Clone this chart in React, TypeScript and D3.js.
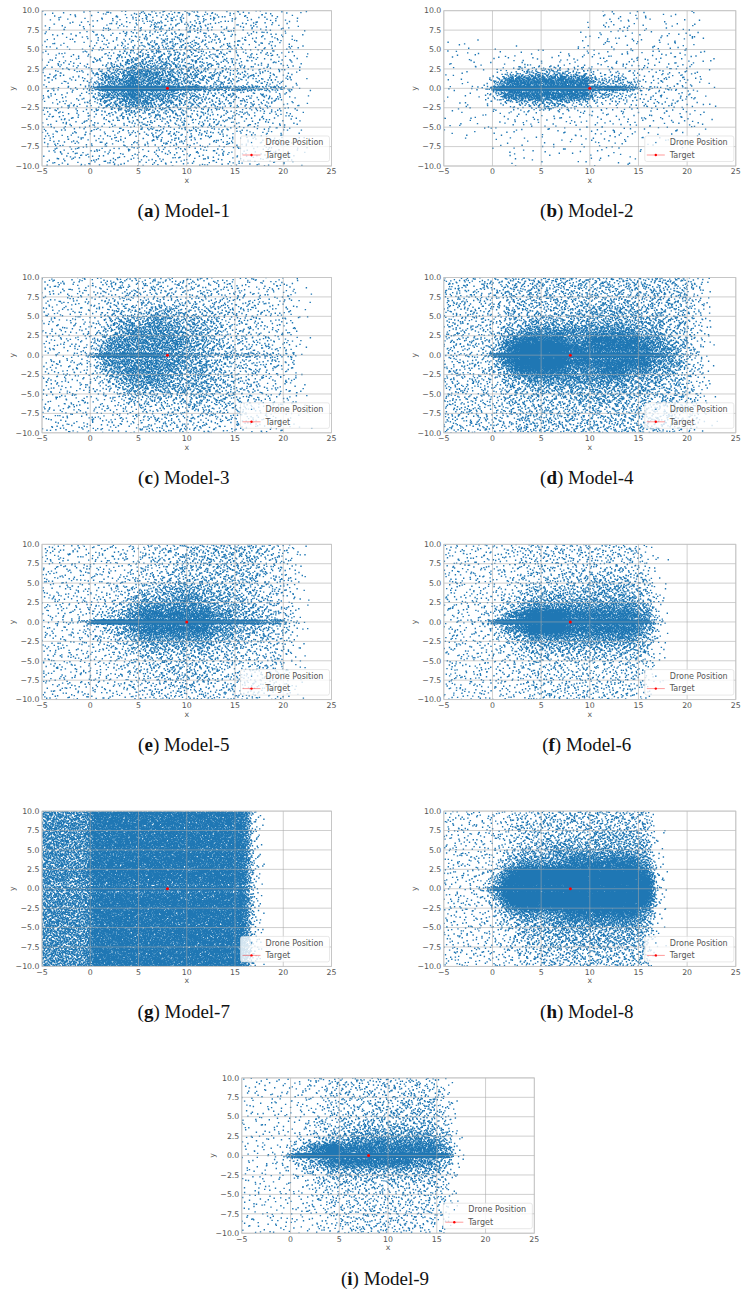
import { useMemo } from 'react';
import * as d3 from 'd3';

// axis ticks shared by all nine panels
const X_TICKS = [-5, 0, 5, 10, 15, 20, 25];
const Y_TICKS = [10, 7.5, 5, 2.5, 0, -2.5, -5, -7.5, -10];

// density cells: columns are 1.25 wide from x=-5 to 25,
// rows run top to bottom, the middle row is the thin band along y=0
const X_EDGES = d3.range(0, 25).map((i) => -5 + i * 1.25);
const Y_EDGES = [10, 8.75, 7.5, 6.25, 5, 3.75, 2.5, 1.25, 0.3, -0.3, -1.25, -2.5, -3.75, -5, -6.25, -7.5, -8.75, -10];
const BAND_ROW = 8;

// points per square pixel for each density digit
const LEVEL_DENSITY = [0, 0.015, 0.035, 0.06, 0.1, 0.17, 0.3, 0.55, 1.1, 2.4];

const MODEL_1 = [
  '2222 2333 4444 4433 3332 2100',
  '2222 2333 4444 4433 3332 2100',
  '2222 3333 4444 4433 3333 2100',
  '2222 3334 4555 5444 3333 2100',
  '3222 3345 5555 5444 3333 3100',
  '3333 3456 6665 5544 4333 3100',
  '3333 4667 7766 6554 4443 3100',
  '3333 5778 7776 6555 4444 3100',
  '3333 7999 9998 8777 7766 4200',
  '3333 5778 7776 6555 4444 3100',
  '3333 4667 7665 5544 4443 3100',
  '3333 3455 5555 4444 4433 3100',
  '3333 3344 4444 4444 3333 2100',
  '3333 3333 4444 4443 3333 2100',
  '3333 3333 3444 3333 3333 2100',
  '2333 3333 3333 3333 3333 2100',
  '2333 3333 3333 3333 3332 2100',
];

const MODEL_2 = [
  '0000 0000 0000 1222 1111 1000',
  '0000 0000 0000 1222 1111 2000',
  '0000 0000 0001 1222 1112 2000',
  '1110 0000 0001 2222 1222 2000',
  '1111 1121 1122 2222 2222 2100',
  '1111 1222 1222 2223 2222 2100',
  '1111 2456 6655 3333 3333 2100',
  '1112 6888 8888 6665 3333 3100',
  '2224 8999 9999 8887 4443 3100',
  '1112 6888 8888 6654 3333 3100',
  '1111 2456 6654 3333 3333 2100',
  '1111 1222 2222 2222 2222 2100',
  '1111 1222 2222 2222 2222 2100',
  '1111 1111 1112 2222 1111 1100',
  '0000 1111 1112 2221 1111 1000',
  '0000 1111 1111 1111 1000 0000',
  '0000 0111 0001 1111 0000 0000',
];

const MODEL_3 = [
  '3333 3444 4444 4433 3333 2100',
  '3333 3444 4444 4444 3333 3100',
  '3333 3444 4444 4444 4333 3100',
  '3333 3455 5665 5554 4433 3100',
  '3333 3566 6766 6554 4433 3100',
  '3333 4567 7776 6654 4433 3100',
  '3333 4677 7777 6654 4443 3100',
  '3333 5777 7777 6655 4444 3100',
  '3334 7888 8877 7666 6655 4200',
  '3333 5777 7777 6655 4444 3100',
  '3333 4677 7776 6654 4443 3100',
  '3333 3567 7766 6655 4433 3100',
  '3333 3456 6666 6655 4433 3100',
  '3333 3345 5555 5555 4433 3100',
  '3333 3334 4444 5544 4433 2100',
  '2333 3333 4444 4444 4333 2100',
  '2333 3333 4444 4433 3332 1100',
];

const MODEL_4 = [
  '4444 4555 5555 5555 5555 4200',
  '4444 4555 5555 5555 5555 4200',
  '4444 4555 5555 5555 5555 4200',
  '4444 4555 5556 6666 5555 4200',
  '4444 4556 6666 6666 6655 4200',
  '4444 4667 7777 7777 6655 4200',
  '4444 5788 8877 8888 7765 4200',
  '4444 6899 9988 8888 8776 4200',
  '4445 8999 9999 9999 8876 4200',
  '4444 6899 9988 8888 8776 4200',
  '4444 5788 8877 7887 7665 4200',
  '4444 4667 7777 7776 6655 4200',
  '4444 4556 6666 6666 6555 4200',
  '4444 4555 5556 6665 5555 4200',
  '4444 4555 5555 5555 5555 4200',
  '4444 4455 5555 5555 5554 4200',
  '4444 4455 5555 5555 5544 3100',
];

const MODEL_5 = [
  '3333 3333 4444 5555 5544 3100',
  '3333 3333 4445 5555 5544 3100',
  '3333 3333 4445 5555 5544 3100',
  '3333 3334 4455 5555 5544 3100',
  '3333 3344 5566 6655 5544 3100',
  '3333 3345 6667 7666 5544 3100',
  '3333 4456 7777 7766 6554 3100',
  '3333 4567 8888 8877 6655 4100',
  '3345 8999 9999 9988 8877 5200',
  '3333 4567 8888 8877 6655 4100',
  '3333 4456 7777 7766 5554 3100',
  '3333 3445 6666 6655 5444 3100',
  '3333 3344 5555 5555 4444 3100',
  '3333 3344 4555 5544 4444 2100',
  '3333 3334 4455 5544 4444 2100',
  '3333 3334 4445 4444 4443 2100',
  '3333 3333 4444 4444 4433 2100',
];

const MODEL_6 = [
  '3333 3344 4444 4444 3000 0000',
  '3333 3344 4444 4444 3100 0000',
  '3333 3344 4444 4444 3100 0000',
  '3333 3344 4455 5555 4200 0000',
  '3333 3345 5555 6665 5200 0000',
  '3333 3456 6666 6666 5300 0000',
  '3333 4567 7777 7777 6300 0000',
  '3333 5789 9988 8888 7400 0000',
  '3345 8999 9999 9999 8500 0000',
  '3333 5789 9988 8888 7400 0000',
  '3333 4567 7777 7777 6300 0000',
  '3333 3456 6666 6666 5300 0000',
  '3333 3445 5555 5555 5200 0000',
  '3333 3344 4444 4444 4100 0000',
  '3333 3344 4444 4444 4100 0000',
  '3333 3334 4444 4444 3100 0000',
  '3333 3334 4444 4443 3000 0000',
];

const MODEL_7 = [
  '7777 8888 8888 8888 8400 0000',
  '7777 8888 8888 8888 8400 0000',
  '7777 8888 8888 8888 8400 0000',
  '7777 8888 8888 8888 8400 0000',
  '7777 8888 8888 8888 8400 0000',
  '7777 8888 8888 8888 8400 0000',
  '7777 8888 8888 8888 8400 0000',
  '7777 8888 8888 8888 8400 0000',
  '7777 8888 8888 8888 8400 0000',
  '7777 8888 8888 8888 8400 0000',
  '7777 8888 8888 8888 8400 0000',
  '7777 8888 8888 8888 8400 0000',
  '7777 8888 8888 8888 8400 0000',
  '7777 8888 8888 8888 8400 0000',
  '7777 8888 8888 8888 8400 0000',
  '7777 8888 8888 8888 8400 0000',
  '7777 8888 8888 8888 8400 0000',
];

const MODEL_8 = [
  '3333 3444 5555 5555 5000 0000',
  '3333 3455 5555 5555 5100 0000',
  '3333 3455 5555 6666 5100 0000',
  '3333 3455 6666 6666 6200 0000',
  '3333 4566 6777 7777 6200 0000',
  '3333 4677 7788 8888 7300 0000',
  '3333 5899 9999 9999 8300 0000',
  '3334 7999 9999 9999 9400 0000',
  '3335 8999 9999 9999 9400 0000',
  '3334 7999 9999 9999 9400 0000',
  '3333 5899 9999 9999 8300 0000',
  '3333 4677 7788 8888 7300 0000',
  '3333 4566 6777 7777 6200 0000',
  '3333 3456 6666 6666 6100 0000',
  '3333 3455 5666 6666 5100 0000',
  '3333 3445 5555 5555 5100 0000',
  '3333 3344 5555 5555 5000 0000',
];

const MODEL_9 = [
  '2222 2334 4444 4444 3000 0000',
  '2222 2334 4444 4444 3000 0000',
  '2222 2234 4444 4555 4100 0000',
  '2222 2334 4445 5555 4100 0000',
  '2222 2344 5555 5555 4100 0000',
  '2222 2345 5666 6666 5200 0000',
  '2222 3456 6777 7777 6200 0000',
  '2223 5789 8888 8888 7300 0000',
  '2224 8999 9999 9999 8400 0000',
  '2223 5678 8888 8877 6300 0000',
  '2222 3456 6666 6666 5200 0000',
  '2222 2345 5555 5555 4100 0000',
  '2222 2344 4444 4444 4100 0000',
  '2222 2334 4444 4444 4100 0000',
  '2222 2334 4444 4444 3100 0000',
  '2222 2233 4444 4444 3000 0000',
  '2222 2233 4444 4433 3000 0000',
];

const GRIDS = [MODEL_1, MODEL_2, MODEL_3, MODEL_4, MODEL_5, MODEL_6, MODEL_7, MODEL_8, MODEL_9];
const LETTERS = ['a', 'b', 'c', 'd', 'e', 'f', 'g', 'h', 'i'];
const MODEL_NAMES = ['Model-1', 'Model-2', 'Model-3', 'Model-4', 'Model-5', 'Model-6', 'Model-7', 'Model-8', 'Model-9'];
const TARGET_X = [8, 10, 8, 8, 10, 8, 8, 8, 8];
const TARGET_Y = [0, 0, 0, 0, 0, 0, 0, 0, 0];

const BLUE = '#1f77b4';
const FONT = 'DejaVu Sans, sans-serif';
const fmtY = d3.format('.1f');
const fmtX = d3.format('d');
const LEAP = 409;
const DOT = 1.4;

const X_CENTERS = X_EDGES.slice(0, -1).map((e, i) => (e + X_EDGES[i + 1]) / 2);
const Y_CENTERS = Y_EDGES.slice(0, -1).map((e, i) => (e + Y_EDGES[i + 1]) / 2);

// leaped Halton sequence: even spread inside a cell without a visible lattice
function halton(i: number, b: number) {
  let f = 1;
  let r = 0;
  while (i > 0) {
    f /= b;
    r += f * (i % b);
    i = Math.floor(i / b);
  }
  return r;
}

// place a value inside the tent that reaches from the previous to the next cell centre,
// so neighbouring cells blend instead of showing hard steps
function tent(u: number, centre: number, before: number, after: number) {
  const p = before / (before + after);
  if (u < p) return centre - before * (1 - Math.sqrt(u / p));
  return centre + after * (1 - Math.sqrt((u - p) / (1 - p)));
}

function reflect(v: number, lo: number, hi: number) {
  if (v < lo) return 2 * lo - v;
  if (v > hi) return 2 * hi - v;
  return v;
}

interface PanelProps {
  idx: number;
  left: number;
  top: number;
  width: number;
  height: number;
}

function Panel({ idx, left, top, width, height }: PanelProps) {
  const x = d3.scaleLinear().domain([-5, 25]).range([0, width]);
  const y = d3.scaleLinear().domain([-10, 10]).range([height, 0]);

  const dots = useMemo(() => {
    const parts: string[] = [];
    let k = 1 + idx * 7919;
    const nRows = Y_CENTERS.length;
    GRIDS[idx].forEach((row, r) => {
      const cells = row.replace(/ /g, '');
      const cy = Y_CENTERS[r];
      const h = Y_EDGES[r] - Y_EDGES[r + 1];
      const up = r > 0 ? Y_CENTERS[r - 1] - cy : h;
      const down = r < nRows - 1 ? cy - Y_CENTERS[r + 1] : h;
      for (let c = 0; c < cells.length; c++) {
        const lvl = +cells[c];
        if (!lvl) continue;
        const x0 = X_EDGES[c];
        const x1 = X_EDGES[c + 1];
        const w = x1 - x0;
        const area = Math.abs(x(x1) - x(x0)) * Math.abs(y(Y_EDGES[r + 1]) - y(Y_EDGES[r]));
        const n = Math.round(LEVEL_DENSITY[lvl] * area);
        for (let i = 0; i < n; i++, k++) {
          const u = halton(k * LEAP, 2);
          const v = halton(k * LEAP, 3);
          const xv = reflect(tent(u, X_CENTERS[c], w, w), -5, 25);
          const yv =
            r === BAND_ROW
              ? cy + (v * 2 - 1) * (h / 2)
              : reflect(tent(v, cy, down, up), -10, 10);
          const px = x(xv) - DOT / 2;
          const py = y(yv) - DOT / 2;
          parts.push(`M${px.toFixed(1)} ${py.toFixed(1)}h${DOT}v${DOT}h-${DOT}z`);
        }
      }
    });
    return parts.join('');
  }, [idx, width, height]);

  const clipId = `clip-${idx}`;

  return (
    <g transform={`translate(${left},${top})`}>
      <defs>
        <clipPath id={clipId}>
          <rect width={width} height={height} />
        </clipPath>
      </defs>
      <rect width={width} height={height} fill="white" />
      <path d={dots} fill={BLUE} clipPath={`url(#${clipId})`} />

      {/* grid sits over the points, as in the original */}
      <g stroke="#a8a8a8" strokeOpacity={0.7} strokeWidth={0.8}>
        {X_TICKS.map((t) => (
          <line key={`gx${t}`} x1={x(t)} x2={x(t)} y1={0} y2={height} />
        ))}
        {Y_TICKS.map((t) => (
          <line key={`gy${t}`} x1={0} x2={width} y1={y(t)} y2={y(t)} />
        ))}
      </g>
      <rect width={width} height={height} fill="none" stroke="#c4c4c4" strokeWidth={0.8} />

      <circle cx={x(TARGET_X[idx])} cy={y(TARGET_Y[idx])} r={1.5} fill="#ff0000" />

      <g fontFamily={FONT} fontSize={7.8} fill="#555">
        {Y_TICKS.map((t) => (
          <text key={`ty${t}`} x={-2.5} y={y(t)} dy="0.35em" textAnchor="end">
            {fmtY(t)}
          </text>
        ))}
        {X_TICKS.map((t) => (
          <text key={`tx${t}`} x={x(t)} y={height + 8.5} textAnchor="middle">
            {fmtX(t)}
          </text>
        ))}
        <text x={width / 2} y={height + 17} textAnchor="middle">x</text>
        <text transform={`translate(-30,${height / 2}) rotate(-90)`} textAnchor="middle" dy="0.35em">
          y
        </text>
      </g>

      <g transform={`translate(${width - 91},${height - 30})`} fontFamily={FONT} fontSize={8} fill="#555">
        <rect width={89} height={25.5} rx={2} fill="white" fillOpacity={0.8} stroke="#d8d8d8" strokeWidth={0.6} />
        <rect x={10.4} y={5.9} width={1.3} height={1.3} fill={BLUE} />
        <text x={25} y={6.5} dy="0.35em">Drone Position</text>
        <line x1={2} x2={20} y1={19} y2={19} stroke="#ff0000" strokeOpacity={0.5} strokeWidth={0.8} />
        <circle cx={11} cy={19} r={1.2} fill="#ff0000" />
        <text x={25} y={19} dy="0.35em">Target</text>
      </g>

      <text
        x={width / 2 - 3}
        y={height + 51.5}
        textAnchor="middle"
        fontFamily="Liberation Serif, serif"
        fontSize={19}
        fill="#111"
      >
        (<tspan fontWeight="bold">{LETTERS[idx]}</tspan>) {MODEL_NAMES[idx]}
      </text>
    </g>
  );
}

export default function App() {
  const rowStep = 266.8;
  const panels = GRIDS.map((_, i) => {
    const row = Math.floor(i / 2);
    const col = i % 2;
    const isLast = i === 8;
    const left = isLast ? 241.8 : col === 0 ? 42 : 443.8;
    const width = isLast ? 292.5 : col === 0 ? 289.5 : 292;
    return { idx: i, left, top: 10.7 + row * rowStep, width, height: 155.3 };
  });

  return (
    <div style={{ position: 'absolute', left: 0, top: 0 }}>
      <svg width={745} height={1293} viewBox="0 0 745 1293" style={{ display: 'block', background: 'white' }}>
        {panels.map((p) => (
          <Panel key={p.idx} {...p} />
        ))}
      </svg>
    </div>
  );
}
